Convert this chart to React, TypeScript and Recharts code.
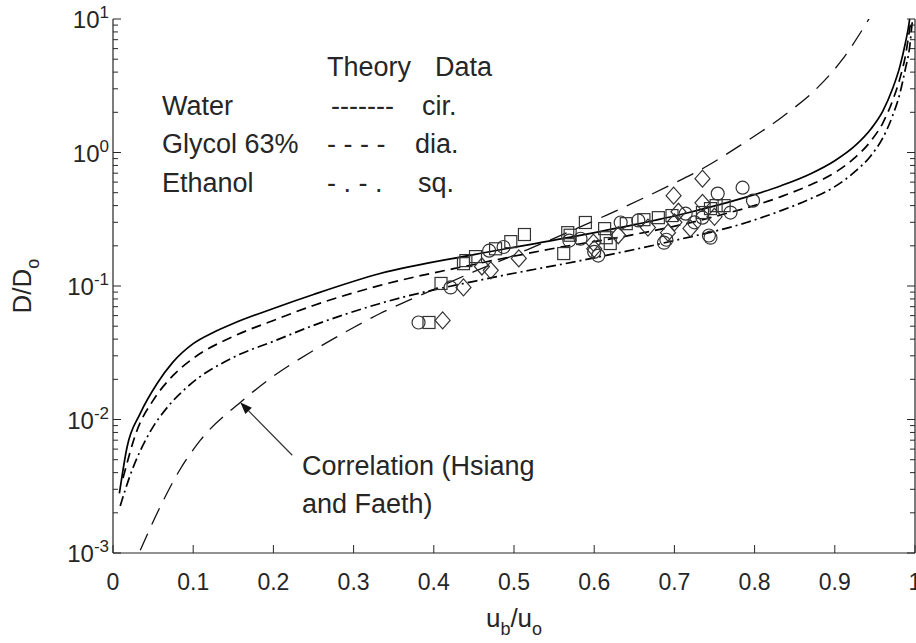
import {
  ComposedChart,
  Line,
  ReferenceLine,
  Scatter,
  XAxis,
  YAxis,
} from "recharts";

const FONT = "'Liberation Sans', Arial, Helvetica, sans-serif";
const INK = "#262626";

// axis ticks
const xTicks = [0, 0.1, 0.2, 0.3, 0.4, 0.5, 0.6, 0.7, 0.8, 0.9, 1];
const xTickLabels = ["0", "0.1", "0.2", "0.3", "0.4", "0.5", "0.6", "0.7", "0.8", "0.9", "1"];
const decades = [0.001, 0.01, 0.1, 1, 10];
const decadeExponents = ["-3", "-2", "-1", "0", "1"];
const minorMultipliers = [2, 3, 4, 5, 6, 7, 8, 9];

// theory curves
const waterX = [0.008, 0.0175, 0.034, 0.055, 0.075, 0.1, 0.125, 0.15, 0.2, 0.25, 0.333, 0.45, 0.567, 0.65, 0.717, 0.783, 0.833, 0.87, 0.9, 0.925, 0.945, 0.96, 0.972, 0.981, 0.988, 0.993, 0.996];
const waterY = [0.0028, 0.0062, 0.0111, 0.0186, 0.027, 0.037, 0.0449, 0.0524, 0.0679, 0.0864, 0.124, 0.172, 0.23, 0.288, 0.354, 0.451, 0.564, 0.694, 0.868, 1.12, 1.5, 2.05, 3.0, 4.38, 6.61, 9.66, 14];

const glycolX = [0.0125, 0.03, 0.05, 0.075, 0.1, 0.15, 0.2, 0.25, 0.333, 0.45, 0.549, 0.65, 0.75, 0.833, 0.87, 0.9, 0.925, 0.945, 0.96, 0.972, 0.981, 0.988, 0.993, 0.997];
const glycolY = [0.00364, 0.00831, 0.0139, 0.0214, 0.0287, 0.0419, 0.0552, 0.0715, 0.101, 0.145, 0.191, 0.243, 0.331, 0.467, 0.574, 0.706, 0.914, 1.22, 1.67, 2.44, 3.56, 5.29, 8.14, 11.9];

const ethanolX = [0.009, 0.021, 0.046, 0.07, 0.092, 0.15, 0.2, 0.25, 0.333, 0.474, 0.583, 0.7, 0.79, 0.833, 0.87, 0.9, 0.925, 0.945, 0.96, 0.972, 0.981, 0.988, 0.993, 0.997, 0.999];
const ethanolY = [0.00225, 0.00376, 0.00803, 0.0128, 0.0174, 0.0292, 0.0385, 0.0507, 0.074, 0.116, 0.155, 0.219, 0.299, 0.367, 0.451, 0.555, 0.718, 0.946, 1.29, 1.88, 2.75, 4.23, 5.97, 10, 12.5];

const correlationX = [0.034, 0.06, 0.083, 0.109, 0.159, 0.2, 0.25, 0.3, 0.333, 0.4, 0.45, 0.517, 0.617, 0.691, 0.737, 0.783, 0.836, 0.877, 0.908, 0.941, 0.95];
const correlationY = [0.00105, 0.00229, 0.00417, 0.007, 0.01346, 0.0211, 0.0329, 0.0489, 0.0622, 0.0942, 0.128, 0.1875, 0.343, 0.555, 0.769, 1.14, 1.88, 3.0, 4.85, 9.66, 11.9];

// measured data
const circleX = [0.381, 0.421, 0.469, 0.487, 0.569, 0.583, 0.6, 0.605, 0.633, 0.655, 0.687, 0.69, 0.714, 0.725, 0.735, 0.743, 0.745, 0.754, 0.77, 0.785, 0.798];
const circleY = [0.0533, 0.0975, 0.184, 0.196, 0.219, 0.226, 0.18, 0.169, 0.299, 0.31, 0.211, 0.222, 0.348, 0.3, 0.325, 0.239, 0.23, 0.492, 0.355, 0.545, 0.436];

const diamondX = [0.411, 0.437, 0.46, 0.471, 0.506, 0.599, 0.6, 0.63, 0.667, 0.692, 0.699, 0.7, 0.705, 0.72, 0.735, 0.735, 0.75];
const diamondY = [0.0552, 0.0975, 0.14, 0.131, 0.161, 0.211, 0.19, 0.24, 0.274, 0.251, 0.475, 0.3, 0.36, 0.27, 0.637, 0.42, 0.33];

const squareX = [0.394, 0.409, 0.437, 0.44, 0.452, 0.477, 0.496, 0.513, 0.562, 0.567, 0.57, 0.589, 0.613, 0.615, 0.62, 0.64, 0.662, 0.68, 0.697, 0.735, 0.745, 0.752, 0.762];
const squareY = [0.0533, 0.1045, 0.147, 0.155, 0.166, 0.19, 0.215, 0.243, 0.175, 0.251, 0.24, 0.299, 0.269, 0.23, 0.208, 0.293, 0.314, 0.325, 0.337, 0.355, 0.38, 0.4, 0.4];

const zip = (xs: number[], ys: number[]) => xs.map((x, i) => ({ x, y: ys[i] }));

const waterData = zip(waterX, waterY);
const glycolData = zip(glycolX, glycolY);
const ethanolData = zip(ethanolX, ethanolY);
const correlationData = zip(correlationX, correlationY);
const circleData = zip(circleX, circleY);
const diamondData = zip(diamondX, diamondY);
const squareData = zip(squareX, squareY);

const yTicks = decades.flatMap((d, i) =>
  i === decades.length - 1 ? [d] : [d, ...minorMultipliers.map((m) => +(m * d).toPrecision(3))]
);

const decadeIndex = (v: number) => decades.findIndex((d) => Math.abs(d - v) / d < 1e-6);

function BottomTick({ x, y, payload }: any) {
  const i = xTicks.indexOf(payload.value);
  return (
    <g>
      <line x1={x} y1={y} x2={x} y2={y - 8} stroke={INK} strokeWidth={1} />
      <text x={x} y={y + 37} textAnchor="middle" fontSize={23} fill={INK} fontFamily={FONT}>
        {xTickLabels[i]}
      </text>
    </g>
  );
}

function TopTick({ x, y }: any) {
  return <line x1={x} y1={y} x2={x} y2={y + 8} stroke={INK} strokeWidth={1} />;
}

function LeftTick({ x, y, payload }: any) {
  const i = decadeIndex(payload.value);
  const major = i >= 0;
  return (
    <g>
      <line x1={x} y1={y} x2={x + (major ? 8 : 5)} y2={y} stroke={INK} strokeWidth={1} />
      {major && (
        <text x={x - 4} y={y + 9} textAnchor="end" fontSize={24} fill={INK} fontFamily={FONT}>
          10
          <tspan dy={-10} fontSize={17}>
            {decadeExponents[i]}
          </tspan>
        </text>
      )}
    </g>
  );
}

function RightTick({ x, y, payload }: any) {
  const major = decadeIndex(payload.value) >= 0;
  return <line x1={x} y1={y} x2={x - (major ? 8 : 5)} y2={y} stroke={INK} strokeWidth={1} />;
}

function CircleMark({ cx, cy }: any) {
  return <circle cx={cx} cy={cy} r={6.5} fill="none" stroke="#333" strokeWidth={1.2} />;
}

function DiamondMark({ cx, cy }: any) {
  const w = 7.5;
  const h = 8.5;
  return (
    <polygon
      points={`${cx},${cy - h} ${cx + w},${cy} ${cx},${cy + h} ${cx - w},${cy}`}
      fill="none"
      stroke="#333"
      strokeWidth={1.2}
    />
  );
}

function SquareMark({ cx, cy }: any) {
  return (
    <rect x={cx - 6} y={cy - 6} width={12} height={12} fill="none" stroke="#333" strokeWidth={1.2} />
  );
}

function ArrowShape({ x1, y1, x2, y2 }: any) {
  const ang = Math.atan2(y2 - y1, x2 - x1);
  const len = 12;
  const half = 4.5;
  const bx = x2 - len * Math.cos(ang);
  const by = y2 - len * Math.sin(ang);
  const px = -Math.sin(ang) * half;
  const py = Math.cos(ang) * half;
  return (
    <g>
      <line x1={x1} y1={y1} x2={bx} y2={by} stroke="#333" strokeWidth={1.2} />
      <polygon points={`${x2},${y2} ${bx + px},${by + py} ${bx - px},${by - py}`} fill="#111" />
    </g>
  );
}

const textStyle = { fontFamily: FONT, fontSize: 27, fill: INK };

export default function App() {
  return (
    <div style={{ position: "absolute", left: 0, top: 0, width: 916, height: 643, background: "#fff" }}>
      <ComposedChart width={916} height={643} margin={{ top: 19, right: 0, bottom: 0, left: 0 }}>
        <XAxis
          type="number"
          dataKey="x"
          domain={[0, 1]}
          ticks={xTicks}
          interval={0}
          height={90}
          tickSize={0}
          tickMargin={0}
          tickLine={false}
          axisLine={{ stroke: INK, strokeWidth: 1.2 }}
          tick={(p: any) => <BottomTick {...p} />}
          allowDataOverflow
        />
        <XAxis
          xAxisId="top"
          orientation="top"
          type="number"
          domain={[0, 1]}
          ticks={xTicks}
          interval={0}
          height={0}
          tickSize={0}
          tickMargin={0}
          tickLine={false}
          axisLine={{ stroke: INK, strokeWidth: 1.2 }}
          tick={(p: any) => <TopTick {...p} />}
          allowDataOverflow
        />
        <YAxis
          type="number"
          scale="log"
          domain={[0.001, 10]}
          ticks={yTicks}
          interval={0}
          width={113}
          tickSize={0}
          tickMargin={0}
          tickLine={false}
          axisLine={{ stroke: INK, strokeWidth: 1.2 }}
          tick={(p: any) => <LeftTick {...p} />}
          allowDataOverflow
        />
        <YAxis
          yAxisId="right"
          orientation="right"
          type="number"
          scale="log"
          domain={[0.001, 10]}
          ticks={yTicks}
          interval={0}
          width={1}
          tickSize={0}
          tickMargin={0}
          tickLine={false}
          axisLine={{ stroke: INK, strokeWidth: 1.2 }}
          tick={(p: any) => <RightTick {...p} />}
          allowDataOverflow
        />

        <Line data={correlationData} dataKey="y" type="monotone" stroke="#111" strokeWidth={1.3} strokeDasharray="18 10" dot={false} activeDot={false} isAnimationActive={false} />
        <Line data={ethanolData} dataKey="y" type="monotone" stroke="#000" strokeWidth={1.7} strokeDasharray="10 4 2 4" dot={false} activeDot={false} isAnimationActive={false} />
        <Line data={glycolData} dataKey="y" type="monotone" stroke="#000" strokeWidth={1.7} strokeDasharray="10 6" dot={false} activeDot={false} isAnimationActive={false} />
        <Line data={waterData} dataKey="y" type="monotone" stroke="#000" strokeWidth={1.7} dot={false} activeDot={false} isAnimationActive={false} />

        <Scatter data={circleData} dataKey="y" shape={(p: any) => <CircleMark {...p} />} isAnimationActive={false} />
        <Scatter data={diamondData} dataKey="y" shape={(p: any) => <DiamondMark {...p} />} isAnimationActive={false} />
        <Scatter data={squareData} dataKey="y" shape={(p: any) => <SquareMark {...p} />} isAnimationActive={false} />

        <ReferenceLine
          segment={[
            { x: 0.2235, y: 0.0054 },
            { x: 0.1586, y: 0.01346 },
          ]}
          shape={(p: any) => <ArrowShape {...p} />}
        />
      </ComposedChart>

      <svg width={916} height={643} style={{ position: "absolute", left: 0, top: 0, pointerEvents: "none" }}>
        <g {...textStyle}>
          <text x={327} y={76}>Theory</text>
          <text x={435} y={76}>Data</text>
          <text x={162} y={115}>Water</text>
          <text x={331} y={115}>-------</text>
          <text x={422} y={115}>cir.</text>
          <text x={162} y={153}>Glycol 63%</text>
          <text x={327} y={153} style={{ whiteSpace: "pre" }}>- - - -</text>
          <text x={415} y={153}>dia.</text>
          <text x={162} y={192}>Ethanol</text>
          <text x={327} y={192} style={{ whiteSpace: "pre" }}>- . - .</text>
          <text x={418} y={192}>sq.</text>
          <text x={302} y={475}>Correlation (Hsiang</text>
          <text x={302} y={513}>and Faeth)</text>
        </g>
        <text x={514} y={627} textAnchor="middle" fontFamily={FONT} fontSize={26} fill={INK}>
          u<tspan dy={8} fontSize={18}>b</tspan>
          <tspan dy={-8}>/u</tspan>
          <tspan dy={8} fontSize={18}>o</tspan>
        </text>
        <text
          x={31}
          y={286}
          textAnchor="middle"
          fontFamily={FONT}
          fontSize={26}
          fill={INK}
          transform="rotate(-90 31 286)"
        >
          D/D<tspan dy={8} fontSize={18}>o</tspan>
        </text>
      </svg>
    </div>
  );
}
